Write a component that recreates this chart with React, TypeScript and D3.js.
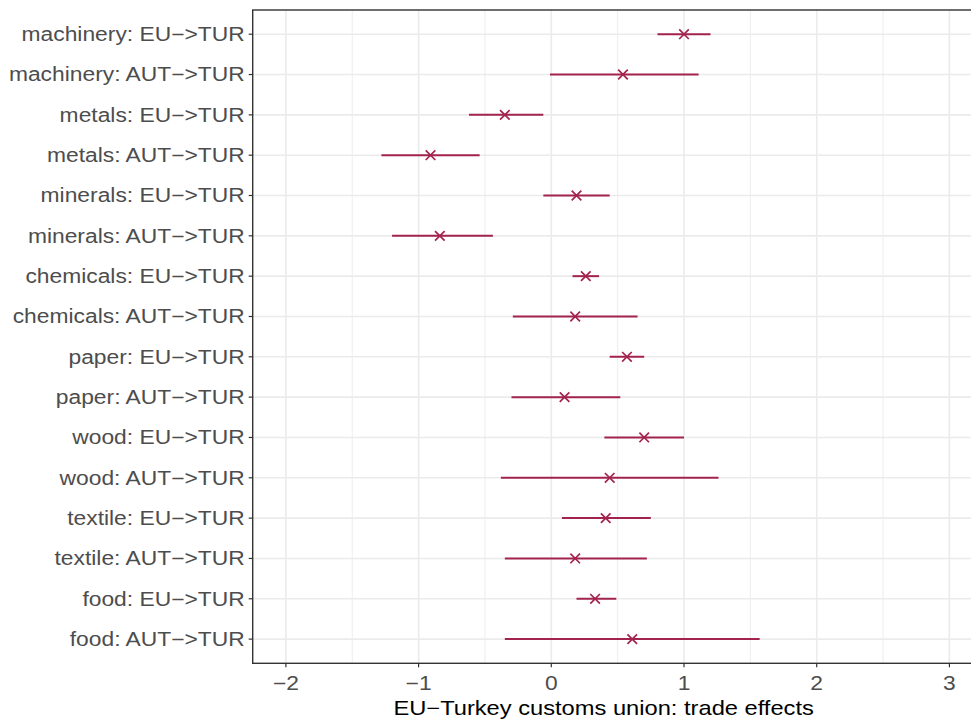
import React from "react";
import * as d3 from "d3";

const categories = [
  "machinery: EU−>TUR",
  "machinery: AUT−>TUR",
  "metals: EU−>TUR",
  "metals: AUT−>TUR",
  "minerals: EU−>TUR",
  "minerals: AUT−>TUR",
  "chemicals: EU−>TUR",
  "chemicals: AUT−>TUR",
  "paper: EU−>TUR",
  "paper: AUT−>TUR",
  "wood: EU−>TUR",
  "wood: AUT−>TUR",
  "textile: EU−>TUR",
  "textile: AUT−>TUR",
  "food: EU−>TUR",
  "food: AUT−>TUR",
];
const estimates = [1.0, 0.54, -0.35, -0.91, 0.19, -0.84, 0.26, 0.18, 0.57, 0.1, 0.7, 0.44, 0.41, 0.18, 0.33, 0.61];
const lowers = [0.8, -0.01, -0.62, -1.28, -0.06, -1.2, 0.16, -0.29, 0.44, -0.3, 0.4, -0.38, 0.08, -0.35, 0.19, -0.35];
const uppers = [1.2, 1.11, -0.06, -0.54, 0.44, -0.44, 0.36, 0.65, 0.7, 0.52, 1.0, 1.26, 0.75, 0.72, 0.49, 1.57];
const xTicks = [-2, -1, 0, 1, 2, 3];
const xMinor = [-1.5, -0.5, 0.5, 1.5, 2.5];
const xTitle = "EU−Turkey customs union: trade effects";

const W = 971;
const H = 722;
const left = 252.7;
const right = 982.6;
const top = 10;
const bottom = 663.3;
const col = "#A3234F";
const font = "'Liberation Sans', Arial, sans-serif";
const sx = 1.17;

export default function App() {
  const x = d3.scaleLinear().domain([-2.25, 3.25]).range([left, right]);
  const y = d3.scalePoint<string>().domain(categories).range([top, bottom]).padding(0.6);
  const s = 4.8;
  return (
    <svg width={W} height={H} style={{ position: "absolute", left: 0, top: 0, background: "#fff" }}>
      <rect x={0} y={0} width={W} height={H} fill="#fff" />
      <g>
        {xMinor.map((t) => (
          <line key={"mn" + t} x1={x(t)} x2={x(t)} y1={top} y2={bottom} stroke="#EBEBEB" strokeWidth={0.9} />
        ))}
        {xTicks.map((t) => (
          <line key={"mj" + t} x1={x(t)} x2={x(t)} y1={top} y2={bottom} stroke="#EBEBEB" strokeWidth={1.6} />
        ))}
        {categories.map((c) => (
          <line key={"hg" + c} x1={left} x2={right} y1={y(c)} y2={y(c)} stroke="#EBEBEB" strokeWidth={1.6} />
        ))}
      </g>
      <g>
        {categories.map((c, i) => {
          const yy = y(c) as number;
          const cx = x(estimates[i]);
          return (
            <g key={"d" + c}>
              <line x1={x(lowers[i])} x2={x(uppers[i])} y1={yy} y2={yy} stroke={col} strokeWidth={2} />
              <path
                d={`M${cx - s},${yy - s}L${cx + s},${yy + s}M${cx - s},${yy + s}L${cx + s},${yy - s}`}
                stroke={col}
                strokeWidth={1.7}
                fill="none"
              />
            </g>
          );
        })}
      </g>
      <rect x={left} y={top} width={right - left} height={bottom - top} fill="none" stroke="#333333" strokeWidth={1.4} />
      <g>
        {categories.map((c) => (
          <g key={"yl" + c}>
            <line x1={left - 4} x2={left} y1={y(c)} y2={y(c)} stroke="#333333" strokeWidth={1.2} />
            <text
              transform={`translate(${left - 8},${y(c)}) scale(${sx},1)`}
              dy="0.35em"
              textAnchor="end"
              fontFamily={font}
              fontSize={19.5}
              fill="#4D4D4D"
            >
              {c}
            </text>
          </g>
        ))}
      </g>
      <g>
        {xTicks.map((t) => (
          <g key={"xl" + t}>
            <line x1={x(t)} x2={x(t)} y1={bottom} y2={bottom + 4} stroke="#333333" strokeWidth={1.2} />
            <text
              transform={`translate(${x(t)},${bottom + 20}) scale(${sx},1)`}
              dy="0.35em"
              textAnchor="middle"
              fontFamily={font}
              fontSize={19.5}
              fill="#4D4D4D"
            >
              {t < 0 ? "−" + Math.abs(t) : String(t)}
            </text>
          </g>
        ))}
      </g>
      <text
        transform={`translate(${(left + right) / 2 - 14},${bottom + 45}) scale(1.185,1)`}
        dy="0.35em"
        textAnchor="middle"
        fontFamily={font}
        fontSize={20}
        fill="#000"
      >
        {xTitle}
      </text>
    </svg>
  );
}
